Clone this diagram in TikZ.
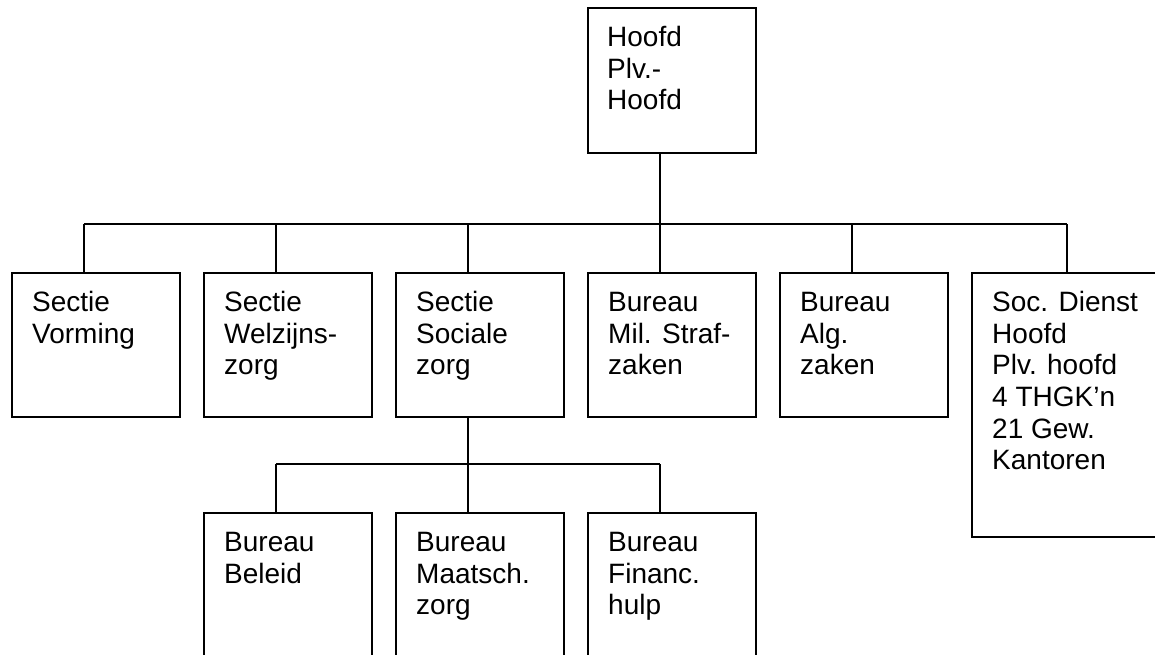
\documentclass[tikz,border=0pt]{standalone}
\usepackage{fontspec}
\setmainfont{Liberation Sans}
\usetikzlibrary{calc}
\tikzset{
  box/.style={draw, line width=1.7pt, rectangle, anchor=north west, inner sep=0pt, minimum width=168pt},
  lbl/.style={anchor=north west, inner sep=0pt, align=left, font=\fontsize{28}{31.7}\selectfont},
  conn/.style={line width=1.7pt}
}
\begin{document}
\begin{tikzpicture}[x=1pt,y=-1pt]
\useasboundingbox (0,0) rectangle (1155,655);
\fill[white] (0,0) rectangle (1155,655);
\clip (0,0) rectangle (1155,655);
% top box
\node[box, minimum height=145pt] (hoofd) at (587,7) {};
% row 1
\node[box, minimum height=144pt] (vorm) at (11,272) {};
\node[box, minimum height=144pt] (welz) at (203,272) {};
\node[box, minimum height=144pt] (soci) at (395,272) {};
\node[box, minimum height=144pt] (straf) at (587,272) {};
\node[box, minimum height=144pt] (alg) at (779,272) {};
\node[box, minimum height=264pt, minimum width=200pt] (soc) at (971,272) {};
% row 2
\node[box, minimum height=170pt] (bel) at (203,512) {};
\node[box, minimum height=170pt] (maat) at (395,512) {};
\node[box, minimum height=170pt] (fin) at (587,512) {};
% labels
\node[lbl] (t-hoofd) at ($(hoofd.north west)+(20,17)$) {\strut Hoofd\\Plv.-\\Hoofd};
\node[lbl] (t-vorm) at ($(vorm.north west)+(21,17)$) {\strut Sectie\\Vorming};
\node[lbl] (t-welz) at ($(welz.north west)+(21,17)$) {\strut Sectie\\Welzijns-\\zorg};
\node[lbl] (t-soci) at ($(soci.north west)+(21,17)$) {\strut Sectie\\Sociale\\zorg};
\node[lbl] (t-straf) at ($(straf.north west)+(21,17)$) {\strut Bureau\\Mil. Straf-\\zaken};
\node[lbl] (t-alg) at ($(alg.north west)+(21,17)$) {\strut Bureau\\Alg.\\zaken};
\node[lbl] (t-soc) at ($(soc.north west)+(21,17)$) {\strut Soc. Dienst\\Hoofd\\Plv. hoofd\\4 THGK'n\\21 Gew.\\Kantoren};
\node[lbl] (t-bel) at ($(bel.north west)+(21,17)$) {\strut Bureau\\Beleid};
\node[lbl] (t-maat) at ($(maat.north west)+(21,17)$) {\strut Bureau\\Maatsch.\\zorg};
\node[lbl] (t-fin) at ($(fin.north west)+(21,17)$) {\strut Bureau\\Financ.\\hulp};
% bus coordinates
\coordinate (bus) at (0,224);
\coordinate (sub) at (0,464);
\coordinate (socin) at ($(soc.north west)+(96,0)$);
% main connectors
\draw[conn] ([xshift=-12pt]hoofd.south) -- ([xshift=-12pt]hoofd.south |- bus);
\draw[conn] ([xshift=-12pt]vorm.north |- bus) -- (socin |- bus);
\draw[conn] ([xshift=-12pt]vorm.north |- bus) -- ([xshift=-12pt]vorm.north);
\draw[conn] ([xshift=-12pt]welz.north |- bus) -- ([xshift=-12pt]welz.north);
\draw[conn] ([xshift=-12pt]soci.north |- bus) -- ([xshift=-12pt]soci.north);
\draw[conn] ([xshift=-12pt]straf.north |- bus) -- ([xshift=-12pt]straf.north);
\draw[conn] ([xshift=-12pt]alg.north |- bus) -- ([xshift=-12pt]alg.north);
\draw[conn] (socin |- bus) -- (socin);
% sub connectors
\draw[conn] ([xshift=-12pt]soci.south) -- ([xshift=-12pt]soci.south |- sub);
\draw[conn] ([xshift=-12pt]bel.north |- sub) -- ([xshift=-12pt]fin.north |- sub);
\draw[conn] ([xshift=-12pt]bel.north |- sub) -- ([xshift=-12pt]bel.north);
\draw[conn] ([xshift=-12pt]maat.north |- sub) -- ([xshift=-12pt]maat.north);
\draw[conn] ([xshift=-12pt]fin.north |- sub) -- ([xshift=-12pt]fin.north);
\end{tikzpicture}
\end{document}
